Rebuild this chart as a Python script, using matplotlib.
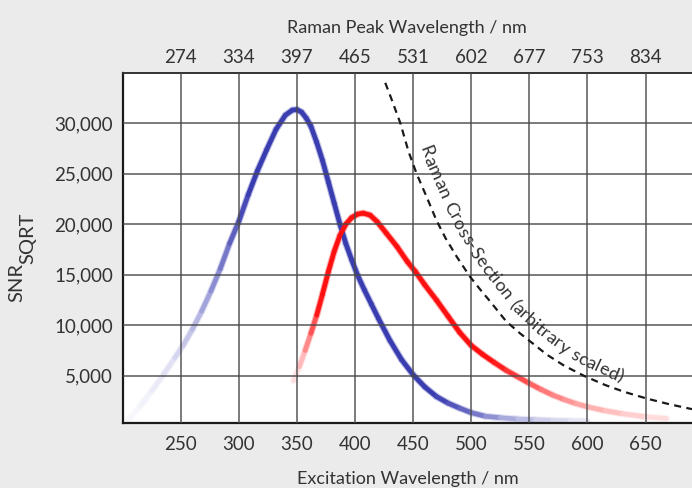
import numpy as np
import matplotlib
matplotlib.use('Agg')
import matplotlib.pyplot as plt
from matplotlib.collections import LineCollection
from matplotlib.colors import to_rgb
from matplotlib.font_manager import FontProperties
from matplotlib.transforms import IdentityTransform

plt.rcParams['font.family'] = ['Lato', 'DejaVu Sans']

# excitation wavelength ticks and matching Raman peak wavelengths
exc_ticks = [250, 300, 350, 400, 450, 500, 550, 600, 650]
raman_labels = ['274', '334', '397', '465', '531', '602', '677', '753', '834']
y_ticks = [5000, 10000, 15000, 20000, 25000, 30000]

# blue curve
blue_x = [205, 215, 225, 235, 245, 252, 260, 268, 276, 284, 292, 300, 308, 316,
          324, 332, 340, 346, 350, 354, 358, 362, 367, 372, 377, 382, 387, 392,
          397, 402, 408, 414, 420, 430, 440, 450, 460, 470, 480, 490, 500, 512,
          525, 540, 555, 570, 585, 600]
blue_y = [650, 2000, 3500, 5100, 6800, 8000, 9600, 11400, 13400, 15600, 18100,
          20300, 22900, 25300, 27400, 29400, 30800, 31300, 31350, 31100, 30500,
          29700, 28100, 26300, 24200, 22100, 20000, 18100, 16500, 15000, 13500,
          12100, 10700, 8500, 6600, 5100, 3900, 2950, 2300, 1800, 1350, 1000,
          850, 720, 650, 600, 560, 530]

# red curve
red_x = [347, 352, 357, 362, 367, 372, 377, 382, 387, 392, 397, 402, 407, 413,
         419, 427, 436, 445, 452, 460, 470, 480, 490, 500, 510, 520, 530, 540,
         550, 560, 570, 580, 590, 600, 615, 630, 650, 668]
red_y = [4500, 5900, 7500, 9200, 11000, 13100, 15300, 17300, 18900, 20000,
         20650, 21000, 21100, 20900, 20250, 19100, 17800, 16300, 15300, 14000,
         12500, 10900, 9300, 8000, 7100, 6300, 5550, 4900, 4250, 3650, 3100,
         2650, 2250, 1930, 1550, 1250, 940, 780]

# Raman cross-section (arbitrary scaled)
cs_x = [426, 431, 439, 446, 453, 462, 470, 478, 488, 499, 508, 516, 530, 542,
        553, 565, 580, 597, 615, 632, 651, 670, 690]
cs_y = [34000, 32500, 30000, 27200, 25000, 22600, 20400, 18600, 16700, 14800,
        13500, 12400, 10400, 9200, 8200, 7100, 6000, 5000, 4100, 3400, 2750,
        2200, 1700]
cs_label = 'Raman Cross-Section (arbitrary scaled)'

text_color = '#333333'


def faded_line(ax, x, y, color, fade_x, fade_a, lw):
    x = np.asarray(x, float)
    y = np.asarray(y, float)
    pts = np.column_stack([x, y])
    segs = np.stack([pts[:-1], pts[1:]], axis=1)
    xm = (x[:-1] + x[1:]) / 2
    a = np.interp(xm, fade_x, fade_a)
    rgb = np.array(to_rgb(color))
    halo = 1 - (a[:, None] * 0.35) * (1 - rgb)
    ax.add_collection(LineCollection(segs, colors=halo, linewidths=lw * 1.45,
                                     capstyle='round', joinstyle='round', zorder=1.8))
    cols = 1 - a[:, None] * (1 - rgb)
    ax.add_collection(LineCollection(segs, colors=cols, linewidths=lw,
                                     capstyle='round', joinstyle='round', zorder=2))


def text_along(fig, ax, x, y, label, start_x, off_x, off_v, fp, spacing=1.0):
    # place each character along the curve, shifted towards the upper right
    P = ax.transData.transform(np.column_stack([x, y]))
    t = np.linspace(0, len(P) - 1, 600)
    xd = np.interp(t, np.arange(len(P)), x)
    px = np.interp(t, np.arange(len(P)), P[:, 0])
    py = np.interp(t, np.arange(len(P)), P[:, 1])
    tx, ty = np.gradient(px), np.gradient(py)
    n = np.hypot(tx, ty)
    off = np.interp(xd, off_x, off_v)
    qx = px - off * ty / n
    qy = py + off * tx / n
    s = np.concatenate([[0], np.cumsum(np.hypot(np.diff(qx), np.diff(qy)))])
    s0 = np.interp(start_x, xd, s)
    r = fig.canvas.get_renderer()
    bar = r.get_text_width_height_descent('|', fp, ismath=False)[0]
    adv = [0.0] + [(r.get_text_width_height_descent(label[:i] + '|', fp, ismath=False)[0] - bar) * spacing
                   for i in range(1, len(label) + 1)]
    for i, ch in enumerate(label):
        if ch == ' ':
            continue
        sa, sb = s0 + adv[i], s0 + adv[i + 1]
        xa, ya = np.interp(sa, s, qx), np.interp(sa, s, qy)
        xb, yb = np.interp(sb, s, qx), np.interp(sb, s, qy)
        ang = np.degrees(np.arctan2(yb - ya, xb - xa))
        fig.text(xa, ya, ch, transform=IdentityTransform(), rotation=ang,
                 rotation_mode='anchor', ha='left', va='baseline',
                 fontproperties=fp, color=text_color, zorder=5)


fig = plt.figure(figsize=(6.92, 4.88), dpi=100, facecolor='#ebebeb')
ax = fig.add_axes([0.1773, 0.1326, 0.8227, 0.7184])
ax.set_facecolor('white')
ax.set_xlim(200, 690)
ax.set_ylim(300, 35000)

faded_line(ax, blue_x, blue_y, '#3a3db0',
           [205, 225, 245, 265, 285, 300, 310, 470, 500, 530, 560, 600],
           [0.03, 0.08, 0.18, 0.38, 0.65, 0.88, 1, 1, 0.75, 0.45, 0.25, 0.1], 3.4)
faded_line(ax, red_x, red_y, '#ff1010',
           [347, 355, 362, 370, 520, 560, 600, 640, 668],
           [0.05, 0.3, 0.6, 1, 1, 0.6, 0.35, 0.2, 0.12], 3.4)

ax.plot(cs_x, cs_y, color='#1a1a1a', lw=1.6, ls=(0, (3.2, 2.4)), zorder=3)

ax.set_xticks(exc_ticks)
ax.set_yticks(y_ticks)
ax.set_yticklabels([f'{v:,}' for v in y_ticks])
ax.set_axisbelow(False)
ax.grid(True, color='#4a4a4a', lw=1.2, alpha=0.85)
ax.tick_params(length=0, labelsize=13.5, colors=text_color)
ax.tick_params(axis='x', pad=9)
ax.tick_params(axis='y', pad=7)

for side in ['left', 'bottom']:
    ax.spines[side].set_color('#1a1a1a')
    ax.spines[side].set_linewidth(1.6)
ax.spines['top'].set_color('#333333')
ax.spines['top'].set_linewidth(1.4)
ax.spines['right'].set_visible(False)

top = ax.secondary_xaxis('top')
top.set_xticks(exc_ticks, labels=raman_labels)
top.tick_params(length=0, labelsize=13.5, colors=text_color, pad=5)
top.spines['top'].set_visible(False)
top.set_xlabel('Raman Peak Wavelength / nm', fontsize=13, color=text_color, labelpad=11)

ax.set_xlabel('Excitation Wavelength / nm', fontsize=13, color=text_color, labelpad=13)

# y label: SNR with a same-size lowered "SQRT"
fig.text(16.5 / 692, 205 / 488, 'SNR', rotation=90, ha='center', va='center',
         fontsize=14.5, color=text_color)
fig.text(27.5 / 692, 250 / 488, 'SQRT', rotation=90, ha='center', va='center',
         fontsize=14.5, color=text_color)

fp = FontProperties(family=['Lato', 'DejaVu Sans'], size=13)
text_along(fig, ax, cs_x, cs_y, cs_label, 446, [440, 480, 520, 620], [11, 13, 12, 8],
           fp, spacing=1.05)

fig.savefig('out.png', dpi=100, facecolor=fig.get_facecolor())
